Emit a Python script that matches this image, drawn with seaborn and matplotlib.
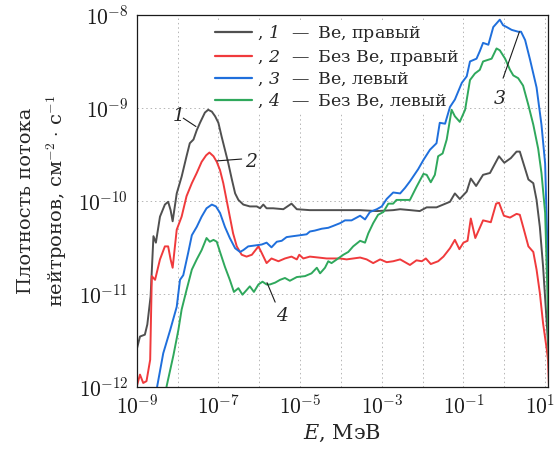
import numpy as np
import pandas as pd
import matplotlib
matplotlib.use("Agg")
import matplotlib.pyplot as plt
import seaborn as sns
from matplotlib.ticker import LogLocator, FuncFormatter, NullFormatter, FixedLocator
from matplotlib.transforms import ScaledTranslation

# ---- data (log10 of energy in MeV, log10 of flux density) ----
lgE1 = [-9.00, -8.92, -8.80, -8.74, -8.66, -8.59, -8.53, -8.43, -8.31, -8.23, -8.17, -8.12,
        -8.02, -7.90, -7.78, -7.70, -7.61, -7.53, -7.45, -7.33, -7.25, -7.16, -7.08, -7.00,
        -6.92, -6.84, -6.76, -6.67, -6.59, -6.51, -6.39, -6.23, -6.06, -5.98, -5.90, -5.82,
        -5.66, -5.41, -5.21, -5.08, -4.76, -4.35, -3.94, -3.53, -3.12, -2.72, -2.55, -2.30,
        -2.07, -1.90, -1.66, -1.33, -1.21, -1.09, -0.92, -0.82, -0.69, -0.52, -0.35, -0.13,
        0.00, 0.16, 0.30, 0.38, 0.59, 0.71, 0.79, 0.87, 0.95, 1.04, 1.09, 1.15]
lgF1 = [-11.60, -11.46, -11.44, -11.33, -11.03, -10.38, -10.45, -10.17, -10.04, -10.01, -10.10, -10.22,
        -9.92, -9.74, -9.52, -9.38, -9.34, -9.24, -9.16, -9.05, -9.02, -9.04, -9.09, -9.16,
        -9.31, -9.45, -9.59, -9.77, -9.92, -9.99, -10.04, -10.06, -10.06, -10.08, -10.04, -10.08,
        -10.08, -10.09, -10.03, -10.09, -10.10, -10.10, -10.10, -10.10, -10.11, -10.10, -10.09, -10.10,
        -10.11, -10.07, -10.07, -10.01, -9.92, -9.98, -9.90, -9.76, -9.84, -9.72, -9.70, -9.52,
        -9.59, -9.54, -9.47, -9.47, -9.77, -9.81, -9.99, -10.28, -10.71, -11.32, -11.67, -12.30]

lgE2 = [-9.00, -8.92, -8.84, -8.76, -8.67, -8.63, -8.55, -8.43, -8.31, -8.23, -8.17, -8.12,
        -8.02, -7.90, -7.78, -7.65, -7.53, -7.41, -7.30, -7.22, -7.12, -7.04, -6.96, -6.88,
        -6.80, -6.72, -6.64, -6.55, -6.43, -6.31, -6.18, -6.02, -5.94, -5.82, -5.70, -5.53,
        -5.37, -5.21, -5.08, -5.02, -4.92, -4.76, -4.55, -4.35, -4.02, -3.86, -3.53, -3.37,
        -3.21, -3.04, -2.88, -2.72, -2.55, -2.31, -2.15, -2.02, -1.92, -1.80, -1.62, -1.49,
        -1.33, -1.21, -1.10, -1.00, -0.90, -0.82, -0.71, -0.52, -0.33, -0.20, -0.13, -0.01,
        0.14, 0.30, 0.38, 0.48, 0.59, 0.71, 0.79, 0.87, 0.95, 1.04, 1.07, 1.12]
lgF2 = [-12.00, -11.87, -11.96, -11.94, -11.71, -10.81, -10.85, -10.63, -10.49, -10.49, -10.63, -10.72,
        -10.31, -10.17, -9.95, -9.81, -9.70, -9.58, -9.51, -9.48, -9.52, -9.58, -9.67, -9.81,
        -9.99, -10.17, -10.35, -10.49, -10.58, -10.60, -10.58, -10.49, -10.56, -10.67, -10.62, -10.65,
        -10.62, -10.60, -10.63, -10.58, -10.62, -10.60, -10.61, -10.62, -10.62, -10.63, -10.61, -10.63,
        -10.67, -10.63, -10.66, -10.65, -10.63, -10.69, -10.64, -10.65, -10.62, -10.68, -10.65, -10.60,
        -10.51, -10.42, -10.52, -10.45, -10.43, -10.19, -10.40, -10.21, -10.23, -10.03, -10.02, -10.16,
        -10.18, -10.14, -10.15, -10.31, -10.49, -10.55, -10.74, -10.99, -11.32, -11.60, -11.71, -12.30]

lgE3 = [-8.50, -8.35, -8.18, -8.02, -7.94, -7.86, -7.74, -7.65, -7.53, -7.41, -7.29, -7.16,
        -7.06, -6.96, -6.84, -6.72, -6.59, -6.47, -6.39, -6.27, -6.10, -5.94, -5.82, -5.70,
        -5.57, -5.45, -5.33, -5.17, -5.00, -4.84, -4.76, -4.64, -4.47, -4.31, -4.19, -4.02,
        -3.90, -3.74, -3.53, -3.41, -3.29, -3.12, -3.00, -2.88, -2.72, -2.55, -2.43, -2.31,
        -2.11, -1.98, -1.82, -1.66, -1.58, -1.45, -1.33, -1.21, -1.04, -0.92, -0.84, -0.68,
        -0.60, -0.52, -0.39, -0.27, -0.19, -0.11, -0.03, 0.06, 0.18, 0.34, 0.41, 0.51,
        0.63, 0.79, 0.91, 1.00, 1.05, 1.09, 1.14]
lgF3 = [-12.00, -11.64, -11.39, -11.14, -10.85, -10.80, -10.56, -10.37, -10.28, -10.17, -10.08, -10.04,
        -10.06, -10.13, -10.28, -10.40, -10.51, -10.55, -10.53, -10.49, -10.48, -10.47, -10.45, -10.50,
        -10.44, -10.43, -10.39, -10.38, -10.37, -10.36, -10.33, -10.32, -10.30, -10.29, -10.27, -10.24,
        -10.21, -10.21, -10.16, -10.20, -10.12, -10.09, -10.06, -9.98, -9.91, -9.92, -9.86, -9.79,
        -9.66, -9.56, -9.45, -9.38, -9.16, -9.17, -8.99, -8.91, -8.73, -8.66, -8.50, -8.47,
        -8.39, -8.30, -8.32, -8.13, -8.09, -8.05, -8.11, -8.13, -8.16, -8.18, -8.18, -8.27,
        -8.48, -8.78, -9.18, -9.60, -10.40, -11.20, -12.30]

lgE4 = [-8.27, -8.10, -7.98, -7.90, -7.78, -7.65, -7.53, -7.41, -7.29, -7.21, -7.12, -7.04,
        -6.96, -6.84, -6.72, -6.62, -6.51, -6.41, -6.31, -6.23, -6.13, -6.02, -5.92, -5.82,
        -5.74, -5.61, -5.49, -5.37, -5.25, -5.08, -4.88, -4.72, -4.59, -4.51, -4.39, -4.31,
        -4.23, -4.10, -3.94, -3.82, -3.70, -3.53, -3.41, -3.33, -3.21, -3.09, -2.96, -2.84,
        -2.72, -2.64, -2.47, -2.31, -2.15, -1.98, -1.90, -1.80, -1.70, -1.62, -1.51, -1.41,
        -1.29, -1.21, -1.09, -0.96, -0.84, -0.72, -0.60, -0.52, -0.31, -0.19, -0.11, 0.02,
        0.14, 0.22, 0.34, 0.46, 0.59, 0.71, 0.83, 0.91, 1.00, 1.05, 1.10]
lgF4 = [-12.00, -11.66, -11.39, -11.17, -10.96, -10.74, -10.63, -10.53, -10.40, -10.44, -10.42, -10.44,
        -10.55, -10.71, -10.85, -10.98, -10.94, -11.01, -10.96, -10.92, -10.98, -10.90, -10.87, -10.90,
        -10.90, -10.88, -10.85, -10.83, -10.86, -10.82, -10.81, -10.78, -10.72, -10.78, -10.72, -10.65,
        -10.67, -10.63, -10.58, -10.55, -10.49, -10.43, -10.45, -10.35, -10.24, -10.15, -10.12, -10.03,
        -10.03, -9.99, -9.99, -9.99, -9.85, -9.71, -9.72, -9.80, -9.72, -9.52, -9.49, -9.34,
        -9.02, -9.09, -9.15, -9.02, -8.70, -8.63, -8.59, -8.50, -8.47, -8.36, -8.38, -8.47,
        -8.59, -8.65, -8.68, -8.76, -8.97, -9.18, -9.44, -9.70, -10.13, -10.90, -11.90]

labels = [", $\\mathsf{1}$\u2002\u2009—\u2002Be, правый",
          ", $\\mathsf{2}$\u2002\u2009—\u2002Без Be, правый",
          ", $\\mathsf{3}$\u2002\u2009—\u2002Be, левый",
          ", $\\mathsf{4}$\u2002\u2009—\u2002Без Be, левый"]
colors = ["#505050", "#f03a3c", "#1f6fdc", "#2fa85c"]

x_major_exps = list(range(-9, 2))
x_label_exps = [-9, -7, -5, -3, -1, 1]
y_major_exps = [-12, -11, -10, -9, -8]

frames = []
for lab, le, lf in zip(labels, [lgE1, lgE2, lgE3, lgE4], [lgF1, lgF2, lgF3, lgF4]):
    frames.append(pd.DataFrame({"E": np.power(10.0, le), "F": np.power(10.0, lf), "series": lab}))
df = pd.concat(frames, ignore_index=True)

# ---- style ----
sns.set_theme(style="white")
plt.rcParams["font.family"] = ["DejaVu Serif", "DejaVu Sans"]
plt.rcParams["mathtext.fontset"] = "custom"
plt.rcParams["mathtext.rm"] = "cmr10"
plt.rcParams["mathtext.it"] = "DejaVu Serif:italic"
plt.rcParams["mathtext.sf"] = "DejaVu Serif:italic"
plt.rcParams["mathtext.fallback"] = "cm"
plt.rcParams["axes.unicode_minus"] = True

fig = plt.figure(figsize=(5.58, 4.51), dpi=100)
ax = fig.add_axes([136.7 / 558, 1 - 386.7 / 451, 411.3 / 558, 371.7 / 451])

sns.lineplot(data=df, x="E", y="F", hue="series", hue_order=labels,
             palette=colors, sort=False, estimator=None, linewidth=1.4, ax=ax, legend=True)

ax.set_xscale("log")
ax.set_yscale("log")
ax.set_xlim(1e-9, 10 ** 1.07)
ax.set_ylim(1e-12, 1e-8)

ax.xaxis.set_major_locator(FixedLocator([10.0 ** e for e in x_major_exps]))
ax.xaxis.set_minor_locator(LogLocator(base=10, subs=np.arange(2, 10), numticks=30))
ax.xaxis.set_major_formatter(FuncFormatter(
    lambda v, p: "$10^{%d}$" % round(np.log10(v)) if round(np.log10(v)) in x_label_exps else ""))
ax.xaxis.set_minor_formatter(NullFormatter())
ax.yaxis.set_major_locator(FixedLocator([10.0 ** e for e in y_major_exps]))
ax.yaxis.set_minor_locator(LogLocator(base=10, subs=np.arange(2, 10), numticks=10))
ax.yaxis.set_major_formatter(FuncFormatter(lambda v, p: "$10^{%d}$" % round(np.log10(v))))
ax.yaxis.set_minor_formatter(NullFormatter())

ax.tick_params(which="both", direction="in", top=False, right=False, labelsize=15.5, colors="k")
ax.tick_params(which="major", length=6, width=0.8, pad=6)
ax.tick_params(which="minor", length=3.5, width=0.6)
ax.grid(True, which="major", linestyle=(0, (1.5, 3)), color="#b5b5b5", linewidth=0.7)
for s in ax.spines.values():
    s.set_color("k")
    s.set_linewidth(0.9)

ax.set_xlabel("$E$, МэВ", fontsize=15, labelpad=3)
ax.set_ylabel("Плотность потока\nнейтронов, см$^{-2}$ $\\cdot$ с$^{-1}$", fontsize=14,
              labelpad=7, linespacing=1.45)

leg = ax.legend(loc="upper left", bbox_to_anchor=(0.16, 1.01), fontsize=12.5,
                frameon=True, framealpha=1.0, facecolor="white", edgecolor="none",
                handlelength=2.15, handletextpad=0.3, labelspacing=0.19, borderpad=0.2,
                fancybox=False)
leg.set_zorder(1.5)
for h in leg.get_lines():
    h.set_linewidth(1.6)

# shift the last x tick label a little so it stays inside the canvas
last = ax.xaxis.get_major_ticks()[-1].label1
last.set_transform(last.get_transform() + ScaledTranslation(-4 / 72, 0, fig.dpi_scale_trans))

# ---- curve labels with leader lines ----
def lab_line(x0, y0, x1, y1):
    ax.plot([10 ** x0, 10 ** x1], [10 ** y0, 10 ** y1], color="k", lw=0.8)

lab_line(-7.86, -9.11, -7.55, -9.20)
ax.text(10 ** -8.02, 10 ** -9.09, "$\\mathsf{1}$", fontsize=13.5, ha="center", va="center")
lab_line(-6.43, -9.55, -7.03, -9.57)
ax.text(10 ** -6.18, 10 ** -9.58, "$\\mathsf{2}$", fontsize=13.5, ha="center", va="center")
lab_line(-0.03, -8.68, 0.37, -8.18)
ax.text(10 ** -0.12, 10 ** -8.90, "$\\mathsf{3}$", fontsize=13.5, ha="center", va="center")
lab_line(-5.81, -10.88, -5.61, -11.09)
ax.text(10 ** -5.43, 10 ** -11.24, "$\\mathsf{4}$", fontsize=13.5, ha="center", va="center")

fig.savefig("out.png", dpi=100)
